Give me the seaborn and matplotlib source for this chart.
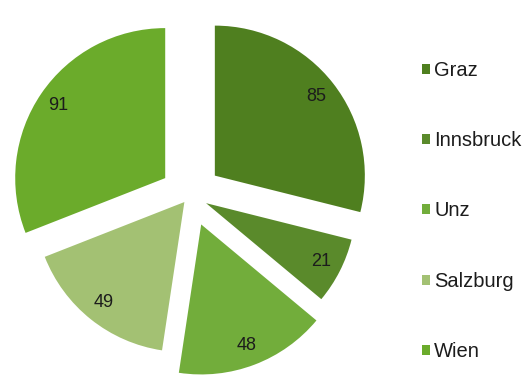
import matplotlib
matplotlib.use("Agg")
import matplotlib.pyplot as plt
import seaborn as sns

# Data: counts per city
cities = ["Graz", "Innsbruck", "Unz", "Salzburg", "Wien"]
values = [85, 21, 48, 49, 91]
value_labels = [str(v) for v in values]

# Styling
colors = ["#4f7f1f", "#5a8a2b", "#72ad3b", "#a3c173", "#6bab2b"]
explode = [0.21, 0.12, 0.21, 0.06, 0.20]

sns.set_theme(style="white")
plt.rcParams["font.family"] = ["Liberation Sans", "DejaVu Sans"]

fig = plt.figure(figsize=(5.32, 3.76), dpi=100)
ax = fig.add_axes([0, 0, 380 / 532, 1])

wedges, texts = ax.pie(
    values,
    colors=colors,
    explode=explode,
    startangle=90,
    counterclock=False,
    labels=value_labels,
    labeldistance=0.86,
    textprops=dict(fontsize=13, color="#1c1c1c"),
    wedgeprops=dict(linewidth=0),
)
for t in texts:
    t.set_ha("center")
    t.set_va("center")

ax.set_aspect("auto")
ax.set_xlim(-190 / 150, 190 / 150)
ax.set_ylim(-181 / 150, 195 / 150)

ax.legend(
    wedges,
    cities,
    loc="center left",
    bbox_to_anchor=(422 / 532, 1 - 211 / 376),
    bbox_transform=fig.transFigure,
    frameon=False,
    fontsize=14.5,
    labelspacing=2.55,
    handlelength=0.4,
    handleheight=0.4,
    handletextpad=0.2,
    borderpad=0,
    borderaxespad=0,
    labelcolor="#1c1c1c",
)

fig.savefig("out.png", dpi=100, facecolor="white")
